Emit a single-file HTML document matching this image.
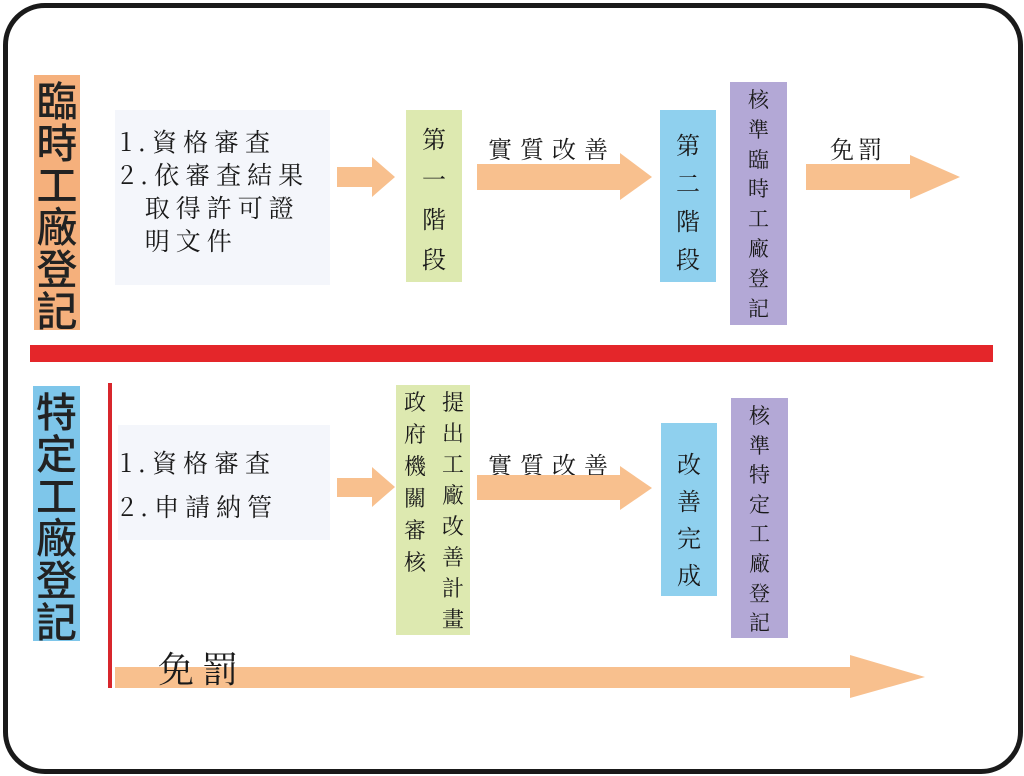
<!DOCTYPE html>
<html><head><meta charset="utf-8"><style>
body{margin:0;width:1024px;height:776px;background:#fff;position:relative;overflow:hidden}
.a{position:absolute}
.frame{left:3px;top:3px;width:1010px;height:761px;border:5px solid #1a1a1a;border-radius:42px}
.lab{font-family:"Noto Sans CJK TC","Noto Sans CJK SC",sans-serif;font-size:41px;line-height:42px;text-align:center;color:#222;font-weight:500}
.s{font-family:"Noto Serif CJK SC","Liberation Serif",serif;color:#1a1a1a}
.v{text-align:center;font-size:24px}
</style></head><body>
<div class="a frame"></div>
<div class="a lab" style="left:34px;top:75px;width:46px;height:255px;background:#f5b07c"><div style="padding-top:2px">臨<br>時<br>工<br>廠<br>登<br>記</div></div>
<div class="a" style="left:115px;top:110px;width:215px;height:175px;background:#f4f6fb"></div>
<div class="a s" style="left:120px;top:125px;font-size:25px;line-height:33px;letter-spacing:6px;white-space:pre">1.資格審査
2.依審査結果
  取得許可證
  明文件</div>
<div class="a" style="left:30px;top:345px;width:963px;height:17px;background:#e4262a"></div>
<div class="a" style="left:406px;top:110px;width:56px;height:172px;background:#dde9b0"></div>
<div class="a s v" style="left:406px;top:118px;width:56px;line-height:40px">第<br>一<br>階<br>段</div>
<div class="a s" style="left:488px;top:130px;font-size:24px;letter-spacing:8px">實質改善</div>
<div class="a" style="left:660px;top:110px;width:56px;height:172px;background:#8fd0ee"></div>
<div class="a s v" style="left:660px;top:125px;width:56px;line-height:38px">第<br>二<br>階<br>段</div>
<div class="a" style="left:730px;top:82px;width:57px;height:243px;background:#b3a8d6"></div>
<div class="a s v" style="left:730px;top:85px;width:57px;font-size:21px;line-height:29.8px">核<br>準<br>臨<br>時<br>工<br>廠<br>登<br>記</div>
<div class="a s" style="left:830px;top:130px;font-size:24px;letter-spacing:4px">免罰</div>
<div class="a lab" style="left:33px;top:386px;width:47px;height:255px;background:#7ec6ea"><div style="padding-top:2px">特<br>定<br>工<br>廠<br>登<br>記</div></div>
<div class="a" style="left:108px;top:383px;width:4px;height:305px;background:#d8262c"></div>
<div class="a" style="left:118px;top:425px;width:212px;height:115px;background:#f4f6fb"></div>
<div class="a s" style="left:120px;top:440px;font-size:25px;line-height:44px;letter-spacing:6px;white-space:pre">1.資格審査
2.申請納管</div>
<div class="a" style="left:396px;top:385px;width:74px;height:250px;background:#dde9b0"></div>
<div class="a s v" style="left:436px;top:386px;width:34px;font-size:22px;line-height:31px">提<br>出<br>工<br>廠<br>改<br>善<br>計<br>畫</div>
<div class="a s v" style="left:398px;top:386px;width:34px;font-size:22px;line-height:32px">政<br>府<br>機<br>關<br>審<br>核</div>
<div class="a s" style="left:488px;top:446px;font-size:24px;letter-spacing:8px">實質改善</div>
<div class="a" style="left:661px;top:423px;width:56px;height:173px;background:#8fd0ee"></div>
<div class="a s v" style="left:661px;top:444px;width:56px;line-height:37px">改<br>善<br>完<br>成</div>
<div class="a" style="left:731px;top:398px;width:57px;height:240px;background:#b3a8d6"></div>
<div class="a s v" style="left:731px;top:401px;width:57px;font-size:21px;line-height:29.6px">核<br>準<br>特<br>定<br>工<br>廠<br>登<br>記</div>
<svg class="a" style="left:0;top:0" width="1024" height="776">
<g fill="#f8c08e">
<polygon points="337,167 372,167 372,157 395,177 372,197 372,187 337,187"/>
<polygon points="477,164 620,164 620,153 652,177 620,200 620,190 477,190"/>
<polygon points="806,164 910,164 910,155 960,177 910,199 910,190 806,190"/>
<polygon points="337,478 372,478 372,467 395,487 372,507 372,497 337,497"/>
<polygon points="477,475 620,475 620,466 652,488 620,510 620,500 477,500"/>
<polygon points="115,667 850,667 850,655 925,677 850,698 850,688 115,688"/>
</g>
</svg>
<div class="a s" style="left:158px;top:642px;font-size:36px;letter-spacing:8px">免罰</div>
</body></html>
